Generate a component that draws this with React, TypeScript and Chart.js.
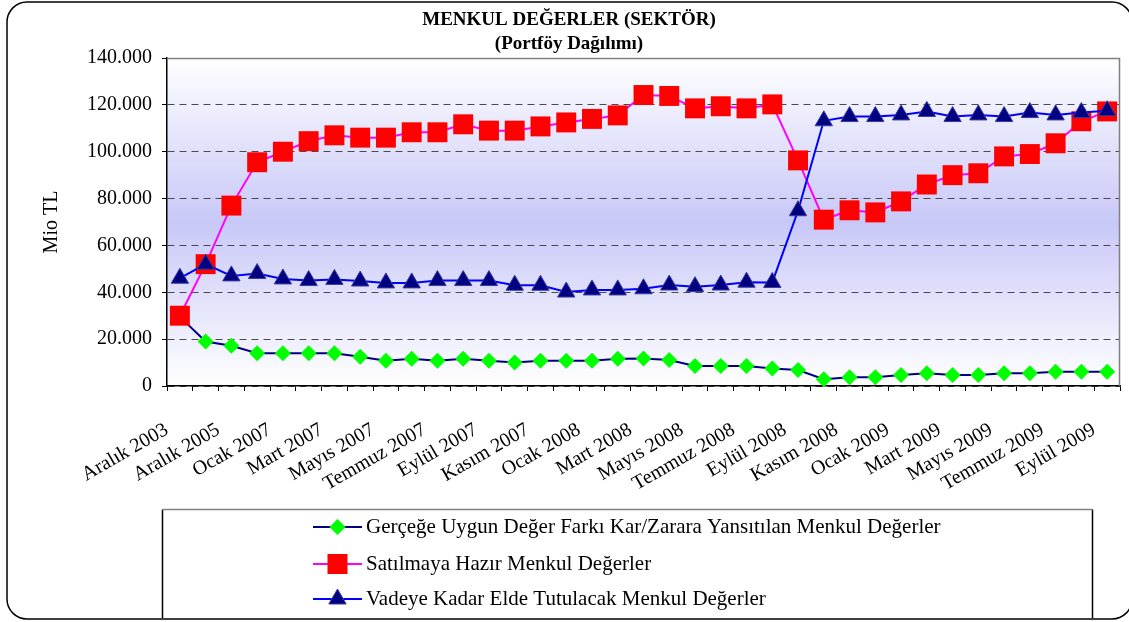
import React, { useEffect, useRef } from "react";
import { Chart, registerables } from "chart.js";

Chart.register(...registerables);

const FONT = "'Liberation Serif', 'Times New Roman', serif";

const categories = [
  "Aralık 2003", "Aralık 2004", "Aralık 2005", "Aralık 2006",
  "Ocak 2007", "Şubat 2007", "Mart 2007", "Nisan 2007", "Mayıs 2007", "Haziran 2007",
  "Temmuz 2007", "Ağustos 2007", "Eylül 2007", "Ekim 2007", "Kasım 2007", "Aralık 2007",
  "Ocak 2008", "Şubat 2008", "Mart 2008", "Nisan 2008", "Mayıs 2008", "Haziran 2008",
  "Temmuz 2008", "Ağustos 2008", "Eylül 2008", "Ekim 2008", "Kasım 2008", "Aralık 2008",
  "Ocak 2009", "Şubat 2009", "Mart 2009", "Nisan 2009", "Mayıs 2009", "Haziran 2009",
  "Temmuz 2009", "Ağustos 2009", "Eylül 2009",
];

const gercegeUygun = [
  29500, 19000, 17200, 14000, 14000, 14000, 14000, 12500, 10800, 11600,
  10800, 11600, 10800, 10000, 10800, 10800, 10800, 11600, 11700, 11100,
  8500, 8500, 8500, 7500, 6800, 2900, 3700, 3700, 4700, 5400,
  4700, 4700, 5400, 5400, 6100, 6100, 6100,
];

const satilmayaHazir = [
  30000, 52000, 77000, 95500, 100000, 104500, 107000, 106000, 106000, 108300,
  108300, 111700, 109000, 109000, 110800, 112500, 114000, 115500, 124200, 123800,
  118500, 119400, 118500, 120200, 96300, 71000, 75000, 74100, 78800, 86000,
  90000, 90800, 98000, 99000, 103600, 113000, 117200,
];

const vadeyeKadar = [
  46000, 52000, 47000, 48000, 45700, 45000, 45500, 44800, 44000, 44000,
  45000, 45000, 45000, 43000, 43000, 40100, 41000, 41000, 41500, 43100,
  42400, 43100, 44300, 44200, 74800, 113200, 115000, 115000, 115700, 117200,
  115000, 115700, 115000, 116700, 115700, 116700, 117500,
];

const seriesNames = [
  "Gerçeğe Uygun Değer Farkı Kar/Zarara Yansıtılan Menkul Değerler",
  "Satılmaya Hazır Menkul Değerler",
  "Vadeye Kadar Elde Tutulacak Menkul Değerler",
];

const titleLines = ["MENKUL DEĞERLER (SEKTÖR)", "(Portföy Dağılımı)"];
const yAxisTitle = "Mio TL";

const fmt = (v: number) =>
  v === 0 ? "0" : String(Math.round(v)).replace(/\B(?=(\d{3})+(?!\d))/g, ".");

function drawMarker(ctx: CanvasRenderingContext2D, kind: string, x: number, y: number) {
  ctx.save();
  ctx.beginPath();
  if (kind === "diamond") {
    const r = 8;
    ctx.moveTo(x - r, y);
    ctx.lineTo(x, y - r);
    ctx.lineTo(x + r, y);
    ctx.lineTo(x, y + r);
    ctx.closePath();
    ctx.fillStyle = "#00ff00";
    ctx.fill();
  } else if (kind === "square") {
    ctx.rect(x - 10, y - 10, 20, 20);
    ctx.fillStyle = "#ff0000";
    ctx.fill();
  } else {
    const r = 10;
    ctx.moveTo(x, y - r);
    ctx.lineTo(x + 0.866 * r, y + 0.5 * r);
    ctx.lineTo(x - 0.866 * r, y + 0.5 * r);
    ctx.closePath();
    ctx.fillStyle = "#000080";
    ctx.fill();
    ctx.strokeStyle = "#3a3aa0";
    ctx.lineWidth = 1;
    ctx.stroke();
  }
  ctx.restore();
}

const decorPlugin = {
  id: "decor",
  beforeDraw(chart: any) {
    const { ctx, chartArea: a } = chart;
    ctx.save();
    ctx.fillStyle = "#ffffff";
    ctx.fillRect(0, 0, chart.width, chart.height);
    const g = ctx.createLinearGradient(0, a.top, 0, a.bottom);
    g.addColorStop(0, "#ffffff");
    g.addColorStop(0.5, "#c8c8f8");
    g.addColorStop(1, "#ffffff");
    ctx.fillStyle = g;
    ctx.fillRect(a.left, a.top, a.right - a.left, a.bottom - a.top);
    ctx.restore();
  },
  beforeDatasetsDraw(chart: any) {
    const { ctx, chartArea: a } = chart;
    ctx.save();
    ctx.strokeStyle = "#808080";
    ctx.lineWidth = 1.5;
    ctx.beginPath();
    ctx.moveTo(a.left, a.top + 0.5);
    ctx.lineTo(a.right - 0.5, a.top + 0.5);
    ctx.lineTo(a.right - 0.5, a.bottom);
    ctx.stroke();
    ctx.restore();
  },
  afterDraw(chart: any) {
    const { ctx } = chart;
    ctx.save();
    // outer frame
    ctx.strokeStyle = "#000000";
    ctx.lineWidth = 1.5;
    ctx.beginPath();
    (ctx as any).roundRect(7, 2, 1125, 617, 20);
    ctx.stroke();

    // title
    ctx.fillStyle = "#000000";
    ctx.font = `bold 19px ${FONT}`;
    ctx.textAlign = "center";
    ctx.textBaseline = "middle";
    ctx.fillText(titleLines[0], 569, 20);
    ctx.fillText(titleLines[1], 569, 44);

    // legend box
    ctx.fillStyle = "#ffffff";
    ctx.fillRect(163, 510, 929, 108);
    ctx.strokeStyle = "#000000";
    ctx.lineWidth = 1.5;
    ctx.beginPath();
    ctx.moveTo(162.5, 618);
    ctx.lineTo(162.5, 509.5);
    ctx.moveTo(1092.5, 509.5);
    ctx.lineTo(1092.5, 618);
    ctx.stroke();
    ctx.strokeStyle = "#808080";
    ctx.beginPath();
    ctx.moveTo(162.5, 509.5);
    ctx.lineTo(1092.5, 509.5);
    ctx.stroke();

    const rows = [527, 564, 599];
    const lineColors = ["#000080", "#ff00ff", "#0000ff"];
    const markers = ["diamond", "square", "triangle"];
    rows.forEach((y, i) => {
      ctx.strokeStyle = lineColors[i];
      ctx.lineWidth = 2;
      ctx.beginPath();
      ctx.moveTo(313, y);
      ctx.lineTo(362, y);
      ctx.stroke();
      drawMarker(ctx, markers[i], 337.5, y);
      ctx.fillStyle = "#000000";
      ctx.font = `21px ${FONT}`;
      ctx.textAlign = "left";
      ctx.textBaseline = "middle";
      ctx.fillText(seriesNames[i], 366, y);
    });
    ctx.restore();
  },
};

export default function App() {
  const canvasRef = useRef<HTMLCanvasElement | null>(null);

  useEffect(() => {
    document.body.style.margin = "0";
    const canvas = canvasRef.current;
    if (!canvas) return;
    const tickFont = { family: FONT, size: 20 };
    const chart = new Chart(canvas, {
      type: "line",
      data: {
        labels: categories,
        datasets: [
          {
            label: seriesNames[0],
            data: gercegeUygun,
            borderColor: "#000080",
            borderWidth: 2,
            backgroundColor: "#00ff00",
            pointStyle: "rectRot",
            pointRadius: 8,
            pointHoverRadius: 8,
            pointBorderWidth: 0,
            pointBorderColor: "#00ff00",
            pointBackgroundColor: "#00ff00",
            tension: 0,
            order: 3,
          },
          {
            label: seriesNames[1],
            data: satilmayaHazir,
            borderColor: "#ff00ff",
            borderWidth: 2,
            backgroundColor: "#ff0000",
            pointStyle: "rect",
            pointRadius: 14.1,
            pointHoverRadius: 14.1,
            pointBorderWidth: 0,
            pointBorderColor: "#ff0000",
            pointBackgroundColor: "#ff0000",
            tension: 0,
            order: 2,
          },
          {
            label: seriesNames[2],
            data: vadeyeKadar,
            borderColor: "#0000ff",
            borderWidth: 2,
            backgroundColor: "#000080",
            pointStyle: "triangle",
            pointRadius: 10,
            pointHoverRadius: 10,
            pointBorderWidth: 1,
            pointBorderColor: "#3a3aa0",
            pointBackgroundColor: "#000080",
            tension: 0,
            order: 1,
          },
        ],
      },
      options: {
        responsive: false,
        animation: false,
        devicePixelRatio: 1,
        events: [],
        layout: { autoPadding: false, padding: { left: 0, right: 9, top: 58, bottom: 0 } },
        plugins: {
          legend: { display: false },
          title: { display: false },
          tooltip: { enabled: false },
        },
        scales: {
          x: {
            type: "category",
            offset: true,
            grid: {
              display: true,
              drawOnChartArea: false,
              drawTicks: true,
              tickLength: 5,
              offset: true,
              color: "#000000",
              tickColor: "#000000",
            },
            border: { display: true, color: "#000000", width: 1.5 },
            ticks: {
              autoSkip: false,
              minRotation: 30,
              maxRotation: 30,
              padding: 27,
              labelOffset: -13,
              color: "#000000",
              font: tickFont,
              callback: (_v: any, i: number) => (i % 2 === 0 ? categories[i] : ""),
            },
            afterFit: (s: any) => {
              s.height = 236;
              s.paddingLeft = 0;
              s.paddingRight = 0;
            },
          },
          y: {
            min: 0,
            max: 140000,
            ticks: {
              stepSize: 20000,
              padding: 10,
              color: "#000000",
              font: tickFont,
              callback: (v: any) => fmt(Number(v)),
            },
            grid: {
              color: "#4a4a4a",
              tickColor: "#000000",
              tickLength: 5,
              lineWidth: 1,
            },
            border: { display: true, color: "#000000", width: 1.5, dash: [7, 5] },
            title: {
              display: true,
              text: yAxisTitle,
              color: "#000000",
              font: tickFont,
              padding: { top: 40, bottom: 0 },
            },
            afterFit: (s: any) => {
              s.width = 167;
            },
          },
        },
      },
      plugins: [decorPlugin],
    } as any);
    return () => chart.destroy();
  }, []);

  return (
    <div style={{ width: 1129, height: 622 }}>
      <canvas ref={canvasRef} width={1129} height={622} style={{ display: "block", width: 1129, height: 622 }} />
    </div>
  );
}
